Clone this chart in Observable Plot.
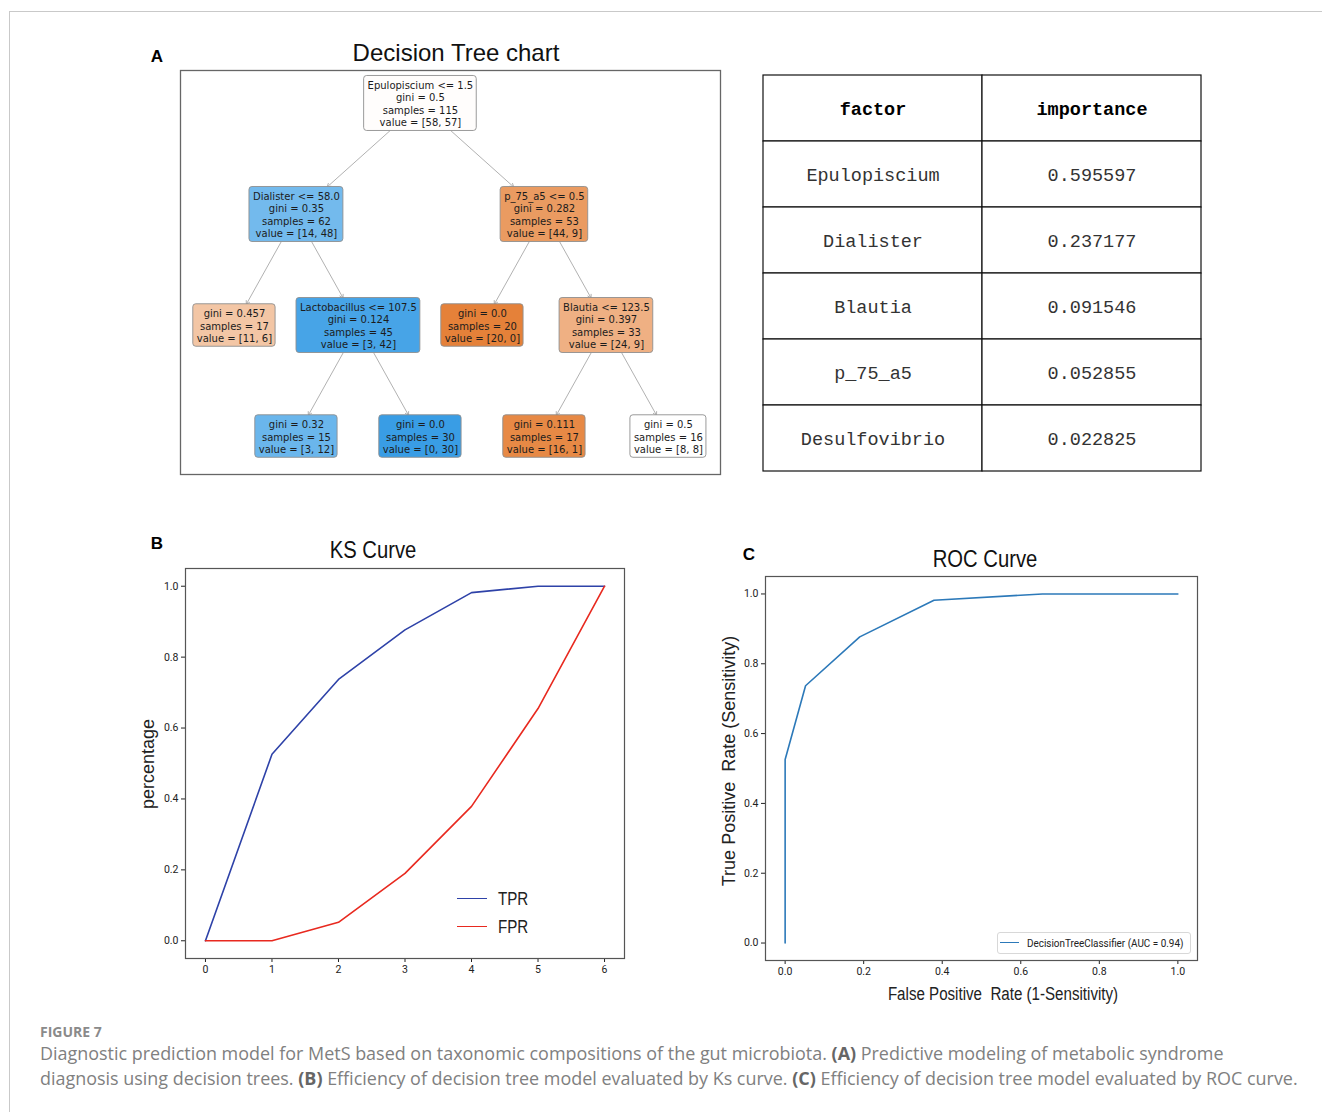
<!DOCTYPE html>
<html><head><meta charset="utf-8">
<script src="https://cdn.jsdelivr.net/npm/d3@7"></script>
<script src="https://cdn.jsdelivr.net/npm/@observablehq/plot@0.6"></script>
<style>
html,body{margin:0;padding:0;background:#fff;}
#root{position:relative;width:1322px;height:1112px;overflow:hidden;background:#fff;font-family:"Liberation Sans",Arial,sans-serif;color:#111;}
.abs{position:absolute;white-space:pre;line-height:1;}
.abs svg{display:block;}
</style></head><body><div id="root"></div>
<script>
// ---------------- DATA ----------------
// Decision tree (panel A)
const treeIds      = [0, 1, 2, 3, 4, 5, 6, 7, 8, 9, 10];
const treeParents  = [null, 0, 0, 1, 1, 2, 2, 4, 4, 6, 6];
const treeSplits   = ["Epulopiscium <= 1.5", "Dialister <= 58.0", "p_75_a5 <= 0.5", null,
                      "Lactobacillus <= 107.5", null, "Blautia <= 123.5", null, null, null, null];
const treeGini     = ["0.5", "0.35", "0.282", "0.457", "0.124", "0.0", "0.397", "0.32", "0.0", "0.111", "0.5"];
const treeSamples  = [115, 62, 53, 17, 45, 20, 33, 15, 30, 17, 16];
const treeValues   = [[58, 57], [14, 48], [44, 9], [11, 6], [3, 42], [20, 0], [24, 9], [3, 12], [0, 30], [16, 1], [8, 8]];

// Feature importance table
const tableColumns    = ["factor", "importance"];
const tableFactors    = ["Epulopiscium", "Dialister", "Blautia", "p_75_a5", "Desulfovibrio"];
const tableImportance = [0.595597, 0.237177, 0.091546, 0.052855, 0.022825];

// KS curve (panel B)
const ksThreshold = [0, 1, 2, 3, 4, 5, 6];
const ksTPR       = [0, 0.526, 0.737, 0.877, 0.982, 1.0, 1.0];
const ksFPR       = [0, 0, 0.052, 0.190, 0.379, 0.655, 1.0];
const ksYTicks    = [0, 0.2, 0.4, 0.6, 0.8, 1.0];
const ksSeries    = ["TPR", "FPR"];

// ROC curve (panel C)
const rocFPR   = [0, 0, 0.052, 0.190, 0.379, 0.655, 1.0];
const rocTPR   = [0, 0.526, 0.737, 0.877, 0.982, 1.0, 1.0];
const rocTicks = [0, 0.2, 0.4, 0.6, 0.8, 1.0];
const rocName  = "DecisionTreeClassifier";
const rocAUC   = 0.94;

// ---------------- HELPERS ----------------
const root = document.getElementById("root");
function put(node, left, top) {
  const d = document.createElement("div");
  d.className = "abs";
  d.style.left = left + "px"; d.style.top = top + "px";
  d.appendChild(node); root.appendChild(d); return d;
}
function label(text, cx, cy, css = {}, extra = "", anchor = "center") {
  const d = document.createElement("div");
  d.className = "abs";
  d.textContent = text;
  d.style.left = cx + "px"; d.style.top = cy + "px";
  if (anchor === "left") {
    d.style.transformOrigin = "left center";
    d.style.transform = `translate(0,-50%) ${extra}`;
  } else {
    d.style.transform = `translate(-50%,-50%) ${extra}`;
  }
  Object.assign(d.style, css);
  root.appendChild(d); return d;
}

// outer figure border (left + top)
const border = document.createElement("div");
Object.assign(border.style, {position:"absolute", left:"9px", top:"11px", width:"1400px", height:"1200px",
  borderLeft:"1px solid #c9c9c9", borderTop:"1px solid #c9c9c9"});
root.appendChild(border);

// ---------------- PANEL A: TREE ----------------
const TREE_W = 540, TREE_H = 404;
const treeXDomain = [-1.935, 2.42];
const treeYDomain = [-0.297, 3.342];
const pxX = TREE_W / (treeXDomain[1] - treeXDomain[0]);
const pxY = TREE_H / (treeYDomain[1] - treeYDomain[0]);

const treeRows = treeIds.map((id, i) => ({id, parent: treeParents[i], split: treeSplits[i],
  gini: treeGini[i], samples: treeSamples[i], value: treeValues[i]}));
const hier = d3.stratify().id(d => String(d.id)).parentId(d => d.parent == null ? null : String(d.parent))(treeRows);
d3.tree().nodeSize([1, 1]).separation(() => 1)(hier);

const ctx = document.createElement("canvas").getContext("2d");
ctx.font = "10px 'DejaVu Sans'";
function nodeColor(v) {
  const tot = v[0] + v[1];
  const f = v.map(a => a / tot);
  const k = f[0] >= f[1] ? 0 : 1;
  const s = [...f].sort((a, b) => b - a);
  const alpha = (s[0] - s[1]) / (1 - s[1]);
  const base = k === 0 ? [229, 129, 57] : [57, 157, 229];
  return `rgb(${base.map(c => Math.round(alpha * c + (1 - alpha) * 255)).join(",")})`;
}
const nodeMap = new Map();
const nodes = hier.descendants().map(n => {
  const d = n.data;
  const lines = [];
  if (d.split) lines.push(d.split);
  lines.push(`gini = ${d.gini}`, `samples = ${d.samples}`, `value = [${d.value[0]}, ${d.value[1]}]`);
  const w = d3.max(lines, l => ctx.measureText(l).width);
  const o = {id: d.id, x: n.x, y: n.depth, label: lines.join("\n"),
    hw: (w + 7) / 2 / pxX, hh: (lines.length * 12.5 + 5) / 2 / pxY,
    fill: nodeColor(d.value), parent: d.parent};
  nodeMap.set(d.id, o);
  return o;
});
const edges = nodes.filter(c => c.parent != null).map(c => {
  const p = nodeMap.get(c.parent);
  const dx = c.x - p.x, dy = c.y - p.y;
  const tP = Math.min(p.hw / Math.abs(dx), p.hh / Math.abs(dy));
  const tC = Math.min(c.hw / Math.abs(dx), c.hh / Math.abs(dy));
  return {x1: p.x + tP * dx, y1: p.y + tP * dy, x2: c.x - tC * dx, y2: c.y - tC * dy};
});

const treePlot = Plot.plot({
  width: TREE_W + 2, height: TREE_H + 2, margin: 1,
  x: {domain: treeXDomain, axis: null},
  y: {domain: treeYDomain, reverse: true, axis: null},
  color: {type: "identity"},
  style: {background: "transparent", fontFamily: "'DejaVu Sans'", overflow: "visible"},
  marks: [
    Plot.arrow(edges, {x1: "x1", y1: "y1", x2: "x2", y2: "y2", stroke: "#9d9d9d", strokeWidth: 0.8, headLength: 7}),
    Plot.rect(nodes, {x1: d => d.x - d.hw, x2: d => d.x + d.hw, y1: d => d.y - d.hh, y2: d => d.y + d.hh,
      fill: "fill", stroke: "#8f8f8f", strokeWidth: 0.9, rx: 3}),
    Plot.text(nodes, {x: "x", y: "y", text: "label", fontSize: 10, lineHeight: 1.25, fill: "#1c1c1c"}),
    Plot.frame({stroke: "#666", strokeWidth: 1.3})
  ]
});
put(treePlot, 179, 69);
label("A", 157, 56, {fontSize: "17px", fontWeight: "bold", color: "#000"});
label("Decision Tree chart", 456, 53, {fontSize: "24px", color: "#111"});

// ---------------- TABLE ----------------
const tableRowKeys = ["header", ...tableFactors];
const tableCells = [
  ...tableColumns.map(c => ({col: c, row: "header", text: c, head: true})),
  ...tableFactors.flatMap((f, i) => [
    {col: tableColumns[0], row: f, text: f, head: false},
    {col: tableColumns[1], row: f, text: tableImportance[i].toFixed(6), head: false}
  ])
];
const tablePlot = Plot.plot({
  width: 440, height: 402, margin: 1,
  x: {domain: tableColumns, padding: 0, axis: null},
  y: {domain: tableRowKeys, padding: 0, axis: null},
  style: {background: "transparent", fontFamily: "'Liberation Mono', monospace"},
  marks: [
    Plot.cell(tableCells, {x: "col", y: "row", fill: "white", stroke: "#111", strokeWidth: 1.2, inset: 0}),
    Plot.text(tableCells.filter(d => !d.head), {x: "col", y: "row", text: "text", fontSize: 18.5, fill: "#333", dy: 1}),
    Plot.text(tableCells.filter(d => d.head), {x: "col", y: "row", text: "text", fontSize: 18.5, fontWeight: "bold", fill: "#000", dy: 1})
  ]
});
put(tablePlot, 762, 72);

// ---------------- PANEL B: KS ----------------
const ksColors = {TPR: "#2e42a8", FPR: "#e8291f"};
const ksRows = ksThreshold.flatMap((t, i) => [
  {t, v: ksTPR[i], s: ksSeries[0]}, {t, v: ksFPR[i], s: ksSeries[1]}
]);
const ksPlot = Plot.plot({
  width: 500, height: 430, marginLeft: 55, marginTop: 8, marginRight: 6, marginBottom: 32,
  x: {domain: [-0.3, 6.3]},
  y: {domain: [-0.05, 1.05]},
  color: {domain: ksSeries, range: ksSeries.map(s => ksColors[s])},
  style: {background: "transparent", fontFamily: "Roboto", fontSize: "10.5px", color: "#222"},
  marks: [
    Plot.axisX({ticks: ksThreshold, tickFormat: d => String(d), tickSize: 4, tickPadding: 3, label: null}),
    Plot.axisY({ticks: ksYTicks, tickFormat: ".1f", tickSize: 4, tickPadding: 3, label: null}),
    Plot.line(ksRows, {x: "t", y: "v", z: "s", stroke: "s", strokeWidth: 1.6}),
    Plot.frame({stroke: "#555", strokeWidth: 1.2})
  ]
});
put(ksPlot, 130, 560);
label("B", 157, 543, {fontSize: "17px", fontWeight: "bold", color: "#000"});
label("KS Curve", 373, 550, {fontSize: "23px", color: "#111"}, "scaleX(0.88)");
label("percentage", 148, 764, {fontSize: "18px", color: "#222"}, "rotate(-90deg)");
// legend
ksSeries.forEach((s, i) => {
  const cy = 899 + i * 28;
  const ln = document.createElement("div");
  Object.assign(ln.style, {position: "absolute", left: "457px", top: (cy - 0.8) + "px", width: "30px", height: "0",
    borderTop: `1.6px solid ${ksColors[s]}`});
  root.appendChild(ln);
  label(s, 498, cy, {fontSize: "18px", color: "#222"}, "scaleX(0.84)", "left");
});

// ---------------- PANEL C: ROC ----------------
const rocColor = "#2c79b9";
const rocRows = rocFPR.map((f, i) => ({fpr: f, tpr: rocTPR[i]}));
const rocPlot = Plot.plot({
  width: 492, height: 420, marginLeft: 55, marginTop: 10, marginRight: 5, marginBottom: 26,
  x: {domain: [-0.05, 1.05]},
  y: {domain: [-0.05, 1.05]},
  style: {background: "transparent", fontFamily: "Roboto", fontSize: "10.5px", color: "#222"},
  marks: [
    Plot.axisX({ticks: rocTicks, tickFormat: ".1f", tickSize: 4, tickPadding: 3, label: null}),
    Plot.axisY({ticks: rocTicks, tickFormat: ".1f", tickSize: 4, tickPadding: 3, label: null}),
    Plot.line(rocRows, {x: "fpr", y: "tpr", stroke: rocColor, strokeWidth: 1.6}),
    Plot.frame({stroke: "#555", strokeWidth: 1.2})
  ]
});
put(rocPlot, 710, 566);
label("C", 749, 554, {fontSize: "17px", fontWeight: "bold", color: "#000"});
label("ROC Curve", 985, 559, {fontSize: "23px", color: "#111"}, "scaleX(0.88)");
label("True Positive  Rate (Sensitivity)", 729, 761, {fontSize: "18px", color: "#222"}, "rotate(-90deg)");
label("False Positive  Rate (1-Sensitivity)", 1003, 994, {fontSize: "18px", color: "#222"}, "scaleX(0.84)");
// legend box
const lg = document.createElement("div");
Object.assign(lg.style, {position: "absolute", left: "997px", top: "932px", width: "192px", height: "20px",
  border: "1px solid #d8d8d8", borderRadius: "3px", background: "#fff"});
root.appendChild(lg);
const lgl = document.createElement("div");
Object.assign(lgl.style, {position: "absolute", left: "1000px", top: "941.5px", width: "19px", height: "0",
  borderTop: `1.6px solid ${rocColor}`});
root.appendChild(lgl);
label(`${rocName} (AUC = ${rocAUC.toFixed(2)})`, 1027, 942.5, {fontSize: "11px", fontFamily: "Roboto", color: "#222"}, "scaleX(0.9)", "left");

// ---------------- CAPTION ----------------
const cap = document.createElement("div");
Object.assign(cap.style, {position: "absolute", left: "40px", top: "1024px", fontFamily: "'Open Sans', sans-serif", color: "#808080"});
cap.innerHTML = `<div style="font-size:14px;font-weight:bold;color:#8a8a8a;line-height:16px;">FIGURE 7</div>
<div style="font-size:17.95px;line-height:25px;white-space:nowrap;margin-top:1px;">Diagnostic prediction model for MetS based on taxonomic compositions of the gut microbiota. <b style="color:#666">(A)</b> Predictive modeling of metabolic syndrome<br>diagnosis using decision trees. <b style="color:#666">(B)</b> Efficiency of decision tree model evaluated by Ks curve. <b style="color:#666">(C)</b> Efficiency of decision tree model evaluated by ROC curve.</div>`;
root.appendChild(cap);
</script></body></html>
